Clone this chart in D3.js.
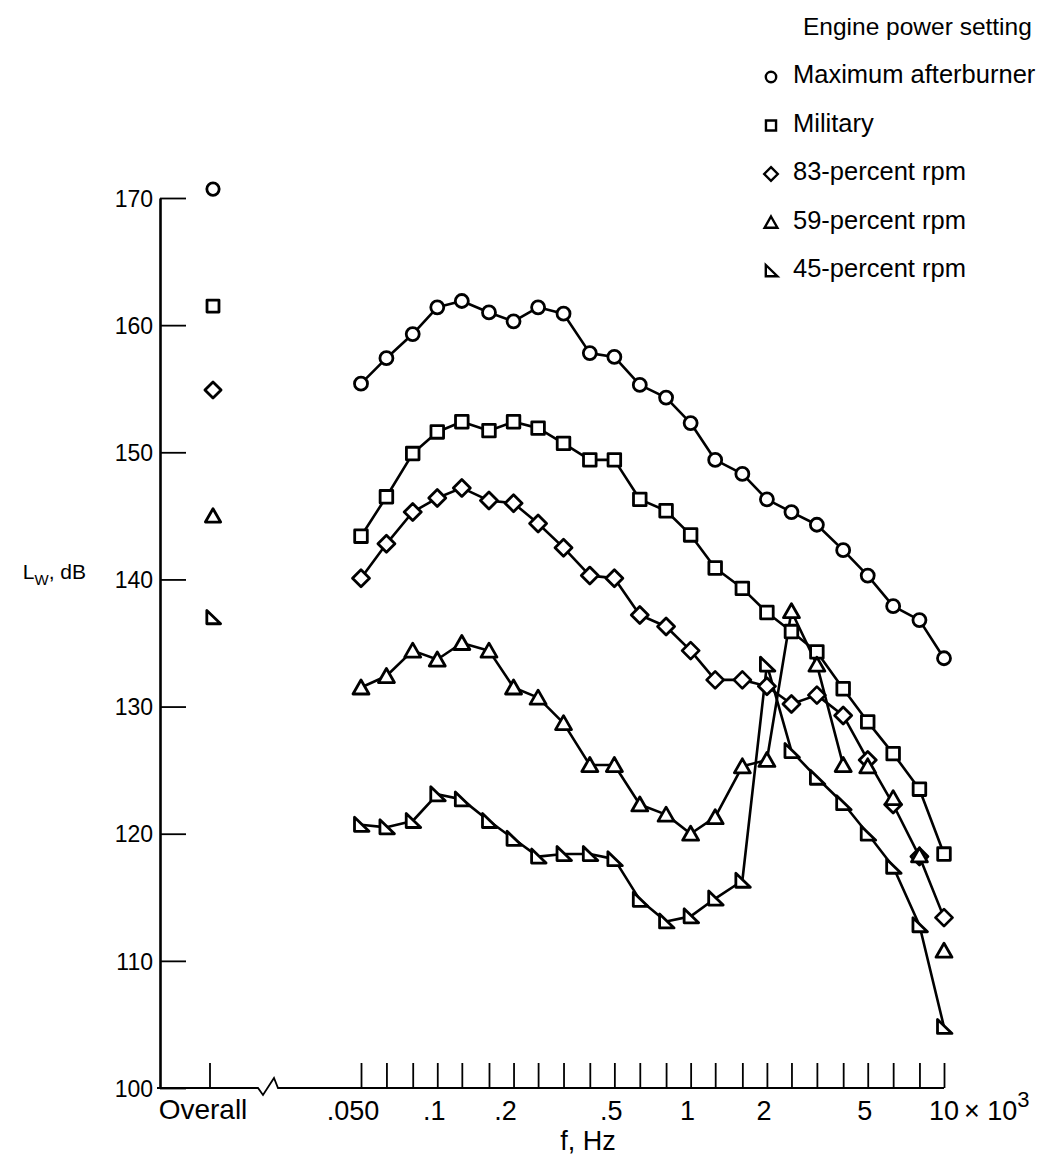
<!DOCTYPE html>
<html>
<head>
<meta charset="utf-8">
<script src="https://cdn.jsdelivr.net/npm/d3@7/dist/d3.min.js"></script>
<style>
  html, body { margin: 0; padding: 0; background: #fff; }
  svg { display: block; }
  text { font-family: "Liberation Sans", Arial, Helvetica, sans-serif; fill: #000; }
</style>
</head>
<body>
<svg id="chart" width="1044" height="1161"></svg>
<script>
// ---------------- data ----------------
const bandsHz = [50, 63, 80, 100, 125, 160, 200, 250, 315, 400, 500, 630, 800,
  1000, 1250, 1600, 2000, 2500, 3150, 4000, 5000, 6300, 8000, 10000];
const xLabelHz = [50, 100, 200, 500, 1000, 2000, 5000, 10000];
const xLabelText = [".050", ".1", ".2", ".5", "1", "2", "5", "10"];
const yTickValues = [100, 110, 120, 130, 140, 150, 160, 170];

const seriesNames = ["Maximum afterburner", "Military", "83-percent rpm", "59-percent rpm", "45-percent rpm"];
const seriesSymbols = ["circle", "square", "diamond", "triangle", "rtriangle"];

const maxAfterburner = [155.4, 157.4, 159.3, 161.4, 161.9, 161.0, 160.3, 161.4, 160.9, 157.8, 157.5, 155.3,
  154.3, 152.3, 149.4, 148.3, 146.3, 145.3, 144.3, 142.3, 140.3, 137.9, 136.8, 133.8];
const military = [143.4, 146.5, 149.9, 151.6, 152.4, 151.7, 152.4, 151.9, 150.7, 149.4, 149.4, 146.3,
  145.4, 143.5, 140.9, 139.3, 137.4, 135.9, 134.3, 131.4, 128.8, 126.3, 123.5, 118.4];
const rpm83 = [140.1, 142.8, 145.3, 146.4, 147.2, 146.2, 146.0, 144.4, 142.5, 140.3, 140.1, 137.2,
  136.3, 134.4, 132.1, 132.1, 131.6, 130.2, 130.9, 129.3, 125.8, 122.3, 118.2, 113.4];
const rpm59 = [131.5, 132.4, 134.4, 133.7, 135.0, 134.4, 131.5, 130.7, 128.7, 125.4, 125.4, 122.3,
  121.5, 120.0, 121.3, 125.3, 125.8, 137.5, 133.3, 125.4, 125.3, 122.8, 118.3, 110.8];
const rpm45 = [120.7, 120.5, 121.0, 123.1, 122.7, 121.0, 119.6, 118.2, 118.4, 118.4, 118.0, 114.8,
  113.1, 113.5, 114.9, 116.3, 133.3, 126.5, 124.4, 122.4, 120.0, 117.4, 112.8, 104.8];
const overallLevels = [170.7, 161.5, 154.9, 145.0, 137.0];
// number of leading points joined by the curve (59-percent curve stops at 4 kHz)
const linkedCount = [24, 24, 24, 20, 24];

const seriesValues = [maxAfterburner, military, rpm83, rpm59, rpm45];

// ---------------- layout ----------------
const svg = d3.select("#chart");
const yAxisX = 160, baseY = 1088, overallX = 210;
const x = d3.scaleLog().domain([50, 10000]).range([361, 944]);
const y = d3.scaleLinear().domain([100, 170]).range([baseY, 198]);

function symbolPath(type, s) {
  const k = s || 1;
  switch (type) {
    case "circle": {
      const r = 6.5 * k;
      return `M${r},0A${r},${r} 0 1,1 ${-r},0A${r},${r} 0 1,1 ${r},0Z`;
    }
    case "square": {
      const h = 6.3 * k;
      return `M${-h},${-h}H${h}V${h}H${-h}Z`;
    }
    case "diamond": {
      const h = 8.5 * k;
      return `M0,${-h}L${h},0L0,${h}L${-h},0Z`;
    }
    case "triangle":
      return `M0,${-7.5 * k}L${8 * k},${6.5 * k}L${-8 * k},${6.5 * k}Z`;
    case "rtriangle":
      return `M${-6.5 * k},${-7.5 * k}L${-6.5 * k},${6.5 * k}L${8 * k},${6.5 * k}Z`;
  }
}

// ---------------- axes ----------------
const yAxis = d3.axisLeft(y).tickValues(yTickValues).tickSizeInner(-26).tickSizeOuter(0)
  .tickPadding(7).tickFormat(d3.format("d"));
const gy = svg.append("g").attr("transform", `translate(${yAxisX},0)`).call(yAxis);
gy.select(".domain").attr("stroke", "#000").attr("stroke-width", 2.6);
gy.selectAll(".tick line").attr("stroke", "#000").attr("stroke-width", 1.8);
gy.selectAll(".tick text").attr("font-size", 23).attr("dy", "0.36em")
  .style("font-family", "'Liberation Sans', Arial, sans-serif").attr("fill", "#000");

// x baseline with axis break
svg.append("path")
  .attr("d", `M${yAxisX - 3},${baseY}H258L263,1095L274,1078L278,${baseY}H${x(10000)}`)
  .attr("fill", "none").attr("stroke", "#000").attr("stroke-width", 1.8).attr("stroke-linejoin", "miter");

const xAxis = d3.axisBottom(x).tickValues(bandsHz).tickSizeInner(-25).tickSizeOuter(0).tickFormat("");
const gx = svg.append("g").attr("transform", `translate(0,${baseY})`).call(xAxis);
gx.select(".domain").remove();
gx.selectAll(".tick line").attr("stroke", "#000").attr("stroke-width", 1.8);

// Overall tick
svg.append("line").attr("x1", overallX).attr("x2", overallX).attr("y1", baseY - 25).attr("y2", baseY)
  .attr("stroke", "#000").attr("stroke-width", 1.8);

// x labels
svg.append("text").attr("x", 203).attr("y", 1119).attr("text-anchor", "middle")
  .attr("font-size", 28).text("Overall");
svg.append("g").selectAll("text").data(xLabelHz).join("text")
  .attr("x", d => x(d) - (d === 10000 ? 0 : (d === 50 || d === 200 ? 8 : 3)))
  .attr("y", 1120).attr("text-anchor", "middle").attr("font-size", 27)
  .text((d, i) => xLabelText[i]);
const exp = svg.append("text").attr("x", x(10000) + 20).attr("y", 1120).attr("font-size", 27);
exp.append("tspan").text("× 10");
exp.append("tspan").attr("dy", -13).attr("font-size", 22).text("3");

svg.append("text").attr("x", 588).attr("y", 1150).attr("text-anchor", "middle")
  .attr("font-size", 27).text("f, Hz");

// y title
const yt = svg.append("text").attr("x", 86).attr("y", 579).attr("text-anchor", "end").attr("font-size", 21);
yt.append("tspan").text("L");
yt.append("tspan").attr("dy", 6).attr("font-size", 15).text("W");
yt.append("tspan").attr("dy", -6).text(", dB");

// ---------------- curves ----------------
const line = d3.line().x(d => x(d.f)).y(d => y(d.v));
seriesValues.forEach((vals, si) => {
  const pts = vals.map((v, i) => ({ f: bandsHz[i], v }));
  svg.append("path").datum(pts.slice(0, linkedCount[si])).attr("d", line)
    .attr("fill", "none").attr("stroke", "#000").attr("stroke-width", 2.6)
    .attr("stroke-linejoin", "round");
});
seriesValues.forEach((vals, si) => {
  svg.append("g").selectAll("path").data(vals).join("path")
    .attr("transform", (v, i) => `translate(${x(bandsHz[i])},${y(v)})`)
    .attr("d", symbolPath(seriesSymbols[si], 1))
    .attr("fill", "#fff").attr("stroke", "#000").attr("stroke-width", 2.8)
    .attr("stroke-linejoin", "round");
});

// overall levels
svg.append("g").selectAll("path").data(overallLevels).join("path")
  .attr("transform", v => `translate(${overallX + 3},${y(v)})`)
  .attr("d", (v, i) => symbolPath(seriesSymbols[i], 0.95))
  .attr("fill", "#fff").attr("stroke", "#000").attr("stroke-width", 2.8)
  .attr("stroke-linejoin", "round");

// ---------------- legend ----------------
svg.append("text").attr("x", 803).attr("y", 35).attr("font-size", 24.5).text("Engine power setting");
const lg = svg.append("g").selectAll("g").data(seriesNames).join("g")
  .attr("transform", (d, i) => `translate(0,${83 + i * 48.5})`);
lg.append("path").attr("transform", "translate(771,-6)")
  .attr("d", (d, i) => symbolPath(seriesSymbols[i], 0.8))
  .attr("fill", "#fff").attr("stroke", "#000").attr("stroke-width", 2.4);
lg.append("text").attr("x", 793).attr("y", 0).attr("font-size", 25.5).text(d => d);
</script>
</body>
</html>
